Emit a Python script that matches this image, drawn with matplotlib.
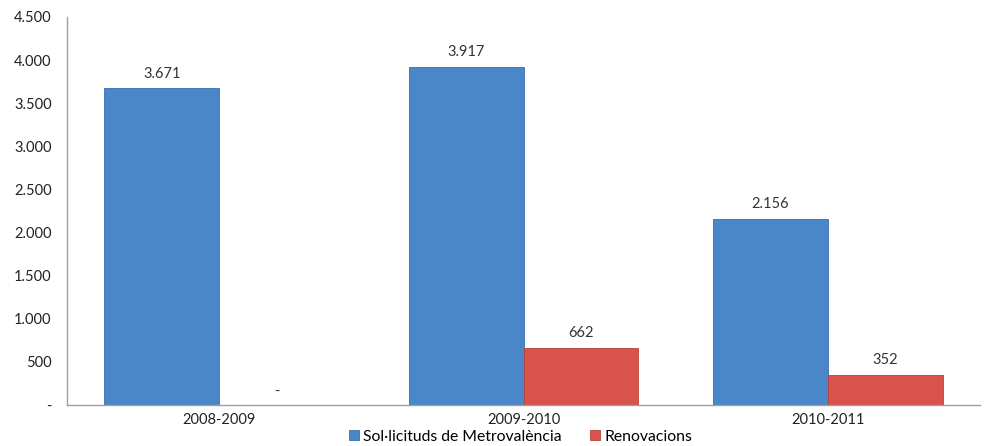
import matplotlib.pyplot as plt
import numpy as np
from matplotlib.ticker import FuncFormatter

plt.rcParams['font.family'] = ['Lato', 'DejaVu Sans']

# chart data
periods = ['2008-2009', '2009-2010', '2010-2011']
sollicituds = [3671, 3917, 2156]
renovacions = [0, 662, 352]
series_names = ['Sol·licituds de Metrovalència', 'Renovacions']

blue = '#4a87c9'
red = '#d9534c'

def fmt_num(v, pos=None):
    if v == 0:
        return '-'
    return f'{int(v):,}'.replace(',', '.')

fig = plt.figure(figsize=(9.85, 4.46), dpi=100)
ax = fig.add_axes([0.068, 0.092, 0.927, 0.870])

x = np.arange(len(periods))
w = 0.377
b1 = ax.bar(x - w/2, sollicituds, w, color=blue, edgecolor='#3a6fa8', linewidth=0.6,
            label=series_names[0])
b2 = ax.bar(x + w/2, renovacions, w, color=red, edgecolor='#b8403a', linewidth=0.6,
            label=series_names[1])

for bars in (b1, b2):
    for r in bars:
        h = r.get_height()
        off = 70 if h == 0 else 90
        ax.text(r.get_x() + r.get_width()/2, h + off, fmt_num(h),
                ha='center', va='bottom', fontsize=10.5, color='#333333')

ax.set_xlim(-0.5, 2.5)
ax.set_ylim(0, 4500)
ax.set_yticks(np.arange(0, 4501, 500))
ax.yaxis.set_major_formatter(FuncFormatter(fmt_num))
ax.set_xticks(x)
ax.set_xticklabels(periods)
ax.tick_params(axis='both', length=0, labelsize=10.5, colors='#222222')
ax.tick_params(axis='y', pad=11)
ax.tick_params(axis='x', pad=6)

for s in ('top', 'right'):
    ax.spines[s].set_visible(False)
for s in ('left', 'bottom'):
    ax.spines[s].set_color('#a0a0a0')
    ax.spines[s].set_linewidth(1.0)

ax.legend(loc='upper center', bbox_to_anchor=(0.497, -0.048), ncol=2, frameon=False,
          fontsize=11.3, handlelength=0.6, handleheight=0.6, handletextpad=0.3,
          columnspacing=1.8, borderaxespad=0)

fig.savefig('out.png', dpi=100)
